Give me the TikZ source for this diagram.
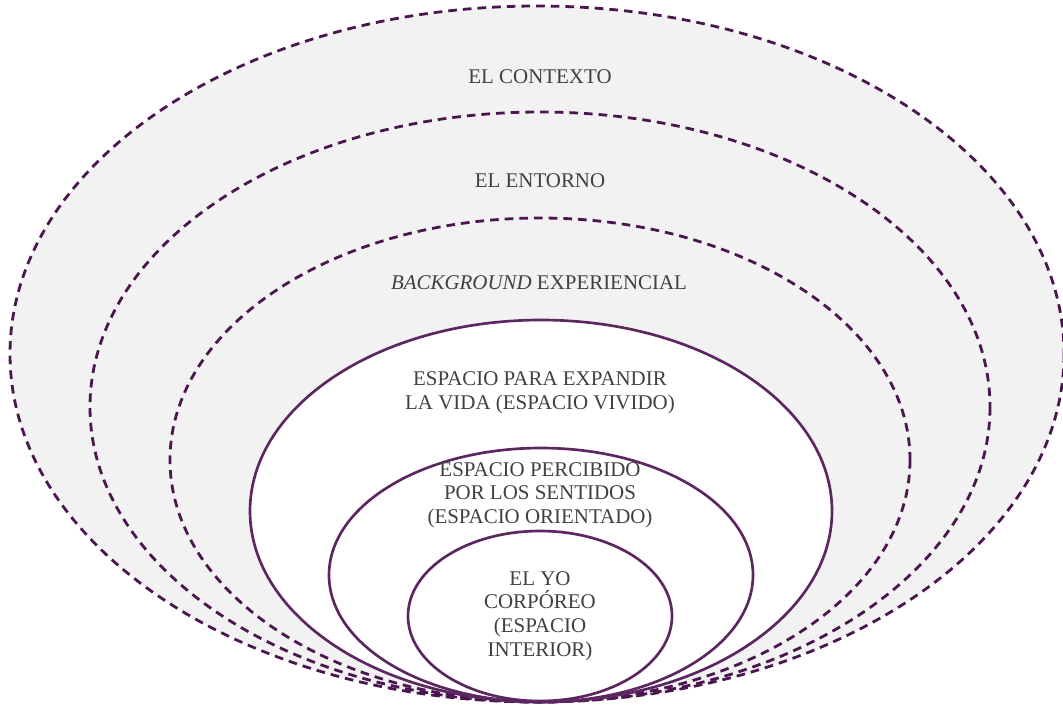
\documentclass[tikz,border=0pt]{standalone}
\usepackage{fontspec}
\setmainfont{Liberation Serif}
\usepackage{tikz}
\definecolor{plum}{HTML}{4B1650}
\definecolor{plumsoft}{HTML}{5C2761}
\definecolor{shade}{HTML}{F2F2F2}
\definecolor{ink}{HTML}{404040}
\tikzstyle{layer}=[draw=plum,fill=shade,line width=2.1pt,dash pattern=on 6.5pt off 4.5pt]
\tikzstyle{space}=[draw=plumsoft,fill=white,line width=2pt]
\tikzstyle{every node}=[font=\fontsize{15.7}{17.7}\selectfont,text=ink,align=center]

\begin{document}
\begin{tikzpicture}[x=0.75pt,y=-0.75pt]
    \useasboundingbox (0,0) rectangle (1063,704);
    % dashed outer layers
    \draw[layer] (537,354) ellipse [x radius=527,y radius=348];
    \draw[layer] (540,407) ellipse [x radius=450,y radius=295];
    \draw[layer] (540,460) ellipse [x radius=370,y radius=242];
    % solid inner spaces
    \draw[space] (541,511) ellipse [x radius=291,y radius=191];
    \draw[space] (541,575) ellipse [x radius=212,y radius=127];
    \draw[space] (540,616) ellipse [x radius=132,y radius=85];
    \node (ctx) at (540,77) {EL CONTEXTO};
    \node (ent) at (540,181) {EL ENTORNO};
    \node (bg) at (539,283) {\textit{BACKGROUND} EXPERIENCIAL};
    \node (viv) at (540,393) {ESPACIO PARA EXPANDIR\\LA VIDA (ESPACIO VIVIDO)};
    \node (ori) at (540,495) {ESPACIO PERCIBIDO\\POR LOS SENTIDOS\\(ESPACIO ORIENTADO)};
    \node (yo) at (540,616) {EL YO\\CORPÓREO\\(ESPACIO\\INTERIOR)};
\end{tikzpicture}
\end{document}
